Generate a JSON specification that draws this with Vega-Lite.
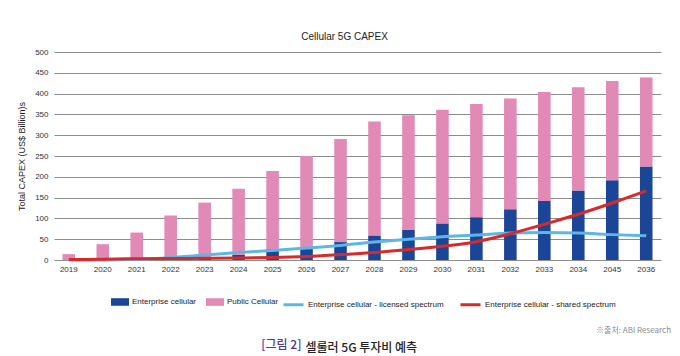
{
  "$schema": "https://vega.github.io/schema/vega-lite/v6.json",
  "background": "white",
  "padding": {"left": 17, "top": 32, "right": 5, "bottom": 0},
  "config": {
    "font": "Liberation Sans",
    "view": {"stroke": null},
    "axis": {"domain": false, "ticks": false, "labelFontSize": 8, "labelColor": "#333333"}
  },
  "title": {"text": "셀룰러 5G 투자비 예측", "orient": "bottom", "anchor": "middle", "font": "Noto Sans CJK KR", "fontSize": 12, "fontWeight": 500, "color": "#222222", "offset": -8, "dx": 17},
  "vconcat": [
    {
      "title": {"text": "[그림 2]", "orient": "bottom", "anchor": "middle", "font": "Noto Sans CJK KR", "fontSize": 12, "fontWeight": 500, "color": "#4b3b8f", "offset": 5, "dx": -63},
      "vconcat": [
        {
          "title": {"text": "※출처: ABI Research", "orient": "bottom", "anchor": "end", "font": "Noto Sans CJK KR", "fontSize": 8, "fontWeight": "normal", "color": "#8a8a8a", "offset": 54, "dx": 10},
          "vconcat": [
            {
              "width": 607,
              "height": 208,
              "title": {"text": "Cellular 5G CAPEX", "anchor": "middle", "fontSize": 10, "fontWeight": "normal", "color": "#222222", "offset": 6, "dx": -13},
              "data": {"values": [
                {"year": "2019", "Enterprise cellular": 0, "Public Cellular": 14, "Enterprise cellular - licensed spectrum": 0, "Enterprise cellular - shared spectrum": 1},
                {"year": "2020", "Enterprise cellular": 0, "Public Cellular": 38, "Enterprise cellular - licensed spectrum": 0, "Enterprise cellular - shared spectrum": 2},
                {"year": "2021", "Enterprise cellular": 1, "Public Cellular": 65, "Enterprise cellular - licensed spectrum": 1, "Enterprise cellular - shared spectrum": 3},
                {"year": "2022", "Enterprise cellular": 2, "Public Cellular": 105, "Enterprise cellular - licensed spectrum": 6, "Enterprise cellular - shared spectrum": 3.5},
                {"year": "2023", "Enterprise cellular": 5, "Public Cellular": 133, "Enterprise cellular - licensed spectrum": 12, "Enterprise cellular - shared spectrum": 4},
                {"year": "2024", "Enterprise cellular": 12, "Public Cellular": 159, "Enterprise cellular - licensed spectrum": 18, "Enterprise cellular - shared spectrum": 5},
                {"year": "2025", "Enterprise cellular": 26, "Public Cellular": 188, "Enterprise cellular - licensed spectrum": 23, "Enterprise cellular - shared spectrum": 6},
                {"year": "2026", "Enterprise cellular": 29, "Public Cellular": 221, "Enterprise cellular - licensed spectrum": 29, "Enterprise cellular - shared spectrum": 8.5},
                {"year": "2027", "Enterprise cellular": 43, "Public Cellular": 248, "Enterprise cellular - licensed spectrum": 35, "Enterprise cellular - shared spectrum": 13},
                {"year": "2028", "Enterprise cellular": 59, "Public Cellular": 274, "Enterprise cellular - licensed spectrum": 43, "Enterprise cellular - shared spectrum": 18},
                {"year": "2029", "Enterprise cellular": 73, "Public Cellular": 275, "Enterprise cellular - licensed spectrum": 50, "Enterprise cellular - shared spectrum": 25},
                {"year": "2030", "Enterprise cellular": 88, "Public Cellular": 273, "Enterprise cellular - licensed spectrum": 56, "Enterprise cellular - shared spectrum": 33},
                {"year": "2031", "Enterprise cellular": 103, "Public Cellular": 272, "Enterprise cellular - licensed spectrum": 60, "Enterprise cellular - shared spectrum": 44},
                {"year": "2032", "Enterprise cellular": 122, "Public Cellular": 266, "Enterprise cellular - licensed spectrum": 65, "Enterprise cellular - shared spectrum": 63},
                {"year": "2033", "Enterprise cellular": 142, "Public Cellular": 262, "Enterprise cellular - licensed spectrum": 66, "Enterprise cellular - shared spectrum": 86},
                {"year": "2034", "Enterprise cellular": 167, "Public Cellular": 248, "Enterprise cellular - licensed spectrum": 65, "Enterprise cellular - shared spectrum": 110},
                {"year": "2045", "Enterprise cellular": 192, "Public Cellular": 238, "Enterprise cellular - licensed spectrum": 61, "Enterprise cellular - shared spectrum": 137},
                {"year": "2036", "Enterprise cellular": 225, "Public Cellular": 214, "Enterprise cellular - licensed spectrum": 58, "Enterprise cellular - shared spectrum": 166}
              ]},
              "encoding": {
                "x": {"field": "year", "type": "ordinal", "sort": null,
                  "scale": {"paddingInner": 0.63, "paddingOuter": 0.25},
                  "axis": {"title": null, "labelAngle": 0, "labelPadding": 5, "grid": false}}
              },
              "layer": [
                {
                  "transform": [{"fold": ["Enterprise cellular", "Public Cellular"], "as": ["series", "value"]}],
                  "mark": {"type": "bar"},
                  "encoding": {
                    "y": {"field": "value", "type": "quantitative", "stack": "zero",
                      "scale": {"domain": [0, 500]},
                      "axis": {"values": [0, 50, 100, 150, 200, 250, 300, 350, 400, 450, 500], "title": "Total CAPEX (US$ Billion)s",
                        "titleFontSize": 9, "titleFontWeight": "normal", "titleColor": "#222222", "titlePadding": 8,
                        "labelPadding": 6, "labelOverlap": false, "grid": true, "gridColor": "#8c8c8c", "gridWidth": 1}},
                    "color": {"field": "series", "type": "nominal",
                      "scale": {"domain": ["Enterprise cellular", "Public Cellular"], "range": ["#1b4596", "#e08ab5"]},
                      "legend": {"orient": "none", "legendX": 57, "legendY": 241, "direction": "horizontal", "title": null,
                        "symbolType": "M-1,-0.42H1V0.42H-1Z", "symbolSize": 324, "symbolStrokeWidth": 0,
                        "labelFontSize": 8, "labelColor": "#222222", "labelOffset": 3, "columnPadding": 9}},
                    "order": {"field": "series", "sort": "ascending"}
                  }
                },
                {
                  "transform": [{"fold": ["Enterprise cellular - licensed spectrum", "Enterprise cellular - shared spectrum"], "as": ["series2", "value2"]}],
                  "mark": {"type": "line", "interpolate": "monotone", "strokeWidth": 3},
                  "encoding": {
                    "y": {"field": "value2", "type": "quantitative",
                      "scale": {"domain": [0, 500]},
                      "axis": {"values": [0, 50, 100, 150, 200, 250, 300, 350, 400, 450, 500], "title": "Total CAPEX (US$ Billion)s",
                        "titleFontSize": 9, "titleFontWeight": "normal", "titleColor": "#222222", "titlePadding": 8,
                        "labelPadding": 6, "labelOverlap": false, "grid": true, "gridColor": "#8c8c8c", "gridWidth": 1}},
                    "stroke": {"field": "series2", "type": "nominal",
                      "scale": {"domain": ["Enterprise cellular - licensed spectrum", "Enterprise cellular - shared spectrum"], "range": ["#5db7e6", "#d52b2b"]},
                      "legend": {"orient": "none", "legendX": 228, "legendY": 241, "direction": "horizontal", "title": null,
                        "symbolType": "stroke", "symbolSize": 400, "symbolStrokeWidth": 3,
                        "labelFontSize": 8, "labelColor": "#222222", "labelOffset": 3, "columnPadding": 10}}
                  }
                }
              ]
            }
          ]
        }
      ]
    }
  ]
}
